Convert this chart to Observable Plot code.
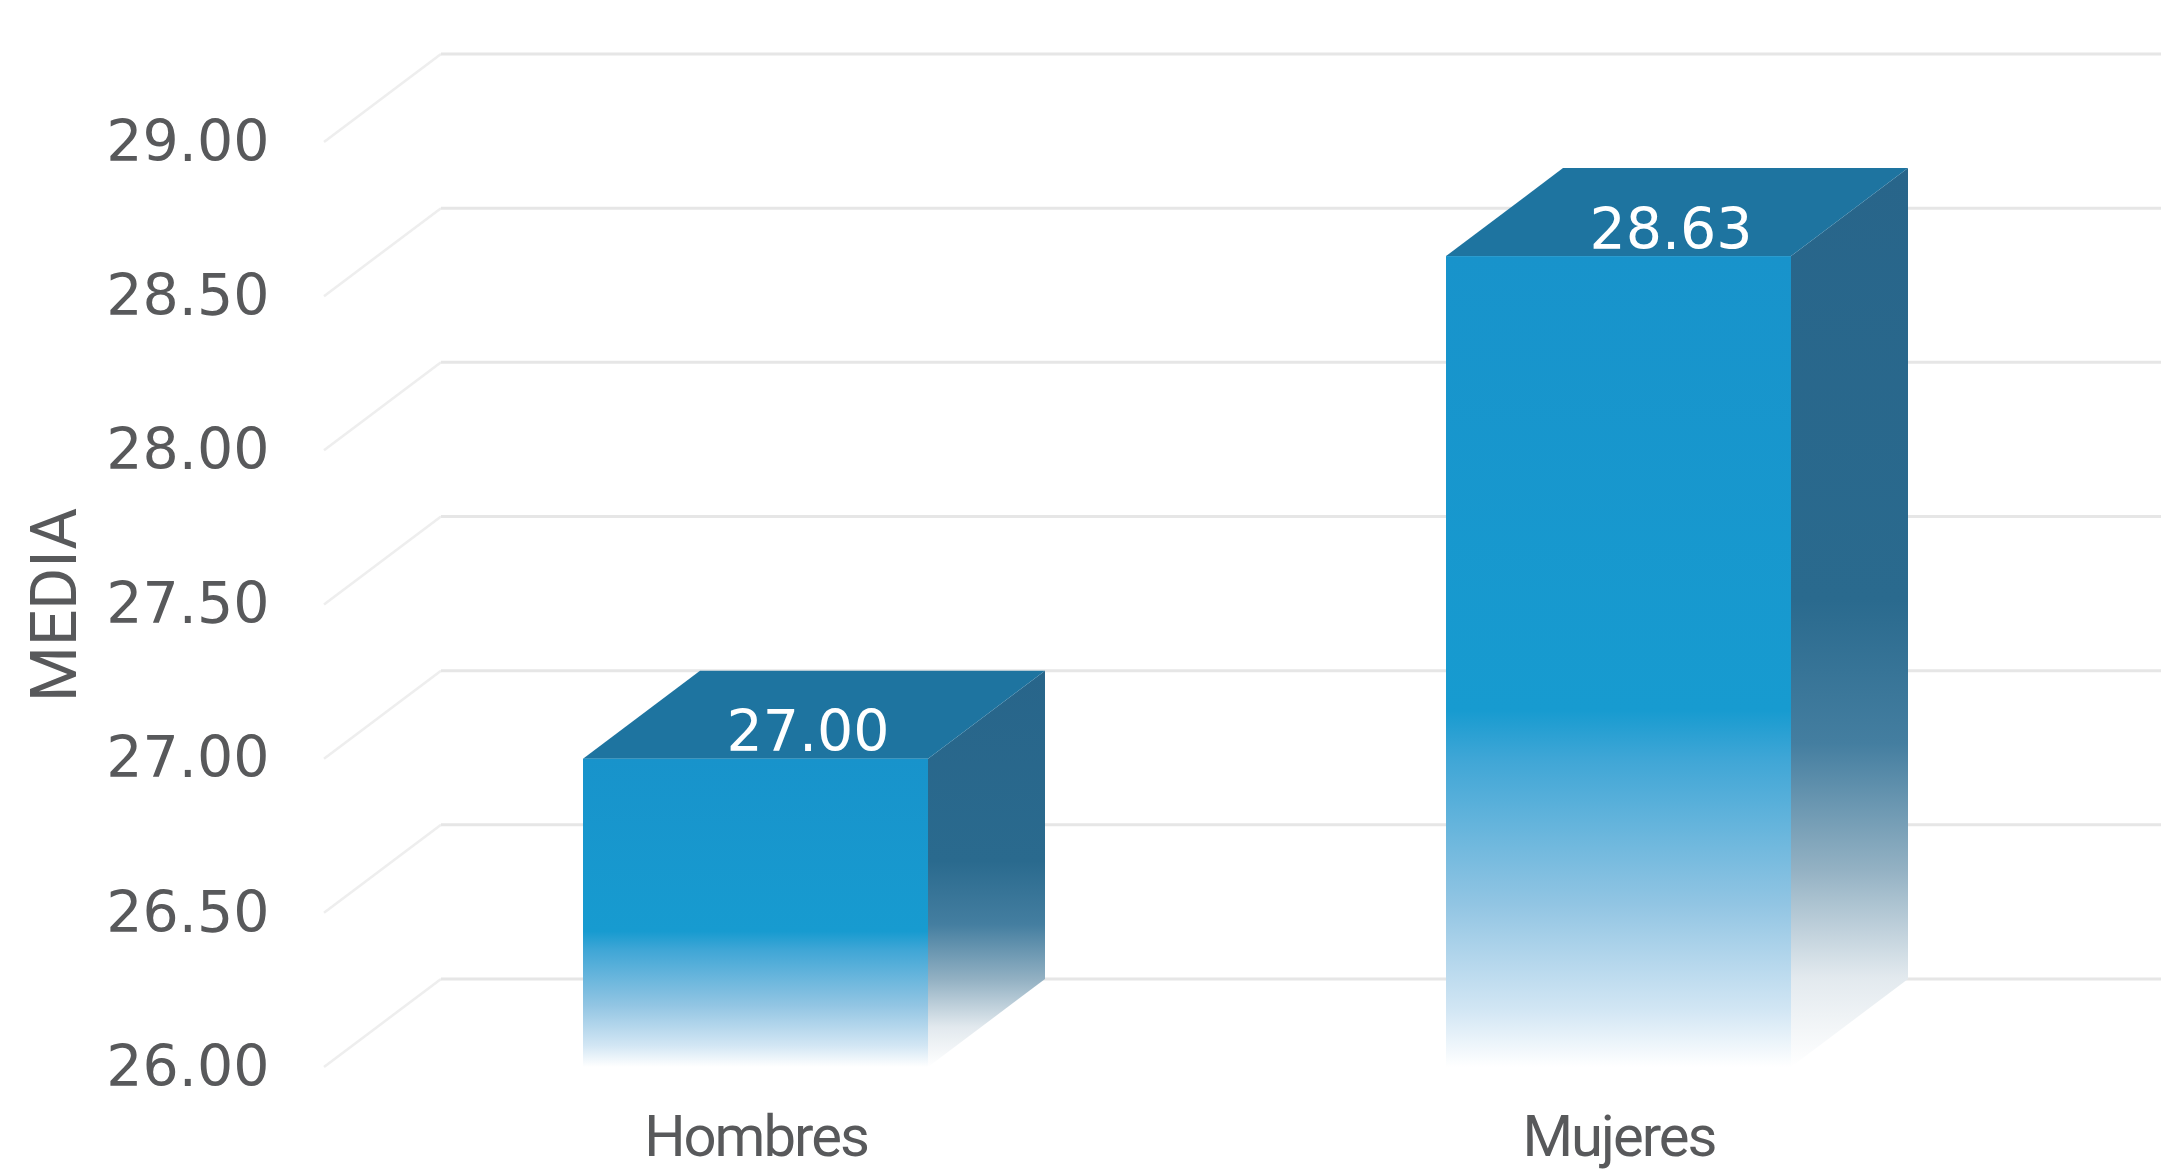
<!DOCTYPE html>
<html>
<head>
<meta charset="utf-8">
<script src="https://cdn.jsdelivr.net/npm/d3@7"></script>
<script src="https://cdn.jsdelivr.net/npm/@observablehq/plot@0.6"></script>
<style>
  html, body { margin: 0; padding: 0; background: #ffffff; }
  #chart svg { display: block; }
  #chart g[aria-label="x-axis tick label"] text { letter-spacing: -2px; }
</style>
</head>
<body>
<div id="chart"></div>
<script>
// ---- data ----
const categories = ["Hombres", "Mujeres"];
const values = [27.00, 28.63];
const yTicks = [26, 26.5, 27, 27.5, 28, 28.5, 29];
const yLabel = "MEDIA";

const data = categories.map((c, i) => ({cat: c, value: values[i]}));

// ---- style constants ----
const W = 2161, H = 1172;
const DX = 117, DY = 88;          // 3D depth offset (pixels)
const textColor = "#58595b";

// gradient definitions
const defsMark = () => {
  const defs = d3.create("svg:defs");
  const fg = defs.append("linearGradient").attr("id", "frontGrad")
    .attr("x1", 0).attr("y1", 0).attr("x2", 0).attr("y2", 1);
  [[0, "#1893cb"], [0.56, "#179bd0"], [0.62, "#3fa6d6"], [0.8, "#92c5e3"], [0.93, "#d2e6f4"], [1, "#ffffff"]]
    .forEach(([o, c]) => fg.append("stop").attr("offset", o).attr("stop-color", c));
  const sg = defs.append("linearGradient").attr("id", "sideGrad")
    .attr("x1", 0).attr("y1", 0).attr("x2", 0).attr("y2", 1);
  [[0, "#28658a"], [0.48, "#2a6a8e"], [0.64, "#447ea0"], [0.78, "#93b1c3"], [0.9, "#e2e9ee"], [1, "#ffffff"]]
    .forEach(([o, c]) => sg.append("stop").attr("offset", o).attr("stop-color", c));
  return defs.node();
};

// perspective gridlines drawn from the y scale
const gridMark = (index, scales, values_, dims) => {
  const g = d3.create("svg:g").attr("fill", "none");
  const x0 = dims.marginLeft - 86;
  for (const t of yTicks) {
    const y = scales.y(t);
    g.append("path")
      .attr("d", `M${x0},${y}L${x0 + DX},${y - DY}`)
      .attr("stroke", "#eeeeee").attr("stroke-width", 2.5);
    g.append("path")
      .attr("d", `M${x0 + DX},${y - DY}H${dims.width}`)
      .attr("stroke", "#e6e6e6").attr("stroke-width", 3);
  }
  return g.node();
};

// top and side faces of the 3D bars, from the x and y scales
const facesMark = (index, scales, values_, dims) => {
  const g = d3.create("svg:g");
  const bw = scales.x.bandwidth();
  const yb = scales.y(yTicks[0]);
  for (const d of data) {
    const xl = scales.x(d.cat), xr = xl + bw, yt = scales.y(d.value);
    g.append("path")
      .attr("d", `M${xr},${yt}L${xr + DX},${yt - DY}L${xr + DX},${yb - DY}L${xr},${yb}Z`)
      .attr("fill", "url(#sideGrad)");
    g.append("path")
      .attr("d", `M${xl},${yt}L${xr},${yt}L${xr + DX},${yt - DY}L${xl + DX},${yt - DY}Z`)
      .attr("fill", "#1e74a0");
  }
  return g.node();
};

const chart = Plot.plot({
  width: W,
  height: H,
  marginLeft: 410,
  marginRight: 196,
  marginTop: 142,
  marginBottom: 105,
  style: {background: "#ffffff", color: textColor, fontFamily: "DejaVu Sans"},
  x: {domain: categories, paddingInner: 0.6, paddingOuter: 0.2, axis: null},
  y: {domain: [yTicks[0], yTicks[yTicks.length - 1]], axis: null},
  marks: [
    defsMark,
    gridMark,
    facesMark,
    Plot.barY(data, {x: "cat", y1: () => yTicks[0], y2: "value", fill: "url(#frontGrad)"}),
    Plot.text(data, {
      x: "cat", y: "value", text: d => d.value.toFixed(2),
      dx: 52, dy: -26, fill: "white", fontSize: 57, fontFamily: "DejaVu Sans"
    }),
    Plot.axisY({
      ticks: yTicks, tickFormat: d3.format(".2f"), tickSize: 0, tickPadding: 141,
      fontSize: 57, fontFamily: "DejaVu Sans", label: null
    }),
    Plot.axisX({
      tickSize: 0, tickPadding: 47, fontSize: 58, fontFamily: "Roboto", label: null
    }),
    Plot.text([yLabel], {
      text: d => d, frameAnchor: "left", rotate: -90, dx: -355,
      fontSize: 64, fontFamily: "Roboto", fill: textColor, textAnchor: "middle"
    })
  ]
});

document.getElementById("chart").appendChild(chart);
</script>
</body>
</html>
